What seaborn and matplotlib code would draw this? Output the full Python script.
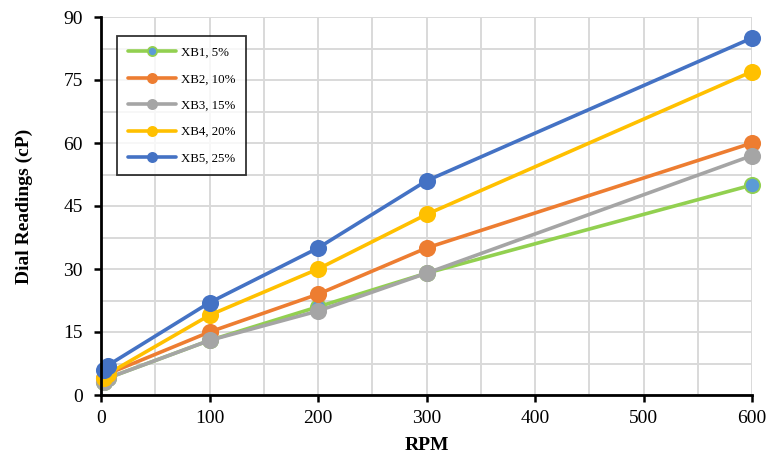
import matplotlib
matplotlib.use("Agg")
import matplotlib.pyplot as plt
from matplotlib.ticker import MultipleLocator
import pandas as pd
import seaborn as sns

# data
rpm = [3, 6, 100, 200, 300, 600]
labels = ["XB1, 5%", "XB2, 10%", "XB3, 15%", "XB4, 20%", "XB5, 25%"]
xb1 = [3, 4, 13, 21, 29, 50]
xb2 = [4, 5, 15, 24, 35, 60]
xb3 = [3, 4, 13, 20, 29, 57]
xb4 = [4, 5, 19, 30, 43, 77]
xb5 = [6, 7, 22, 35, 51, 85]

line_colors = ["#92D050", "#ED7D31", "#A5A5A5", "#FFC000", "#4472C4"]
face_colors = ["#5B9BD5", "#ED7D31", "#A5A5A5", "#FFC000", "#4472C4"]

sns.set_style("white")
plt.rcParams["font.family"] = ["Liberation Serif", "DejaVu Serif"]
plt.rcParams["text.color"] = "black"
plt.rcParams["axes.labelcolor"] = "black"
plt.rcParams["xtick.color"] = "black"
plt.rcParams["ytick.color"] = "black"

fig = plt.figure(figsize=(7.66, 4.63), dpi=100)
ax = fig.add_axes([101 / 766, 68 / 463, 651 / 766, 378 / 463])

for name, vals, lc, fc in zip(labels, [xb1, xb2, xb3, xb4, xb5], line_colors, face_colors):
    df = pd.DataFrame({"RPM": rpm, "val": vals})
    sns.lineplot(data=df, x="RPM", y="val", ax=ax, color=lc, linewidth=2.6,
                 marker="o", markersize=11, markerfacecolor=fc,
                 markeredgecolor=lc, markeredgewidth=1.3, label=name,
                 clip_on=False)

ax.set_xlim(0, 600)
ax.set_ylim(0, 90)
ax.xaxis.set_major_locator(MultipleLocator(100))
ax.xaxis.set_minor_locator(MultipleLocator(50))
ax.yaxis.set_major_locator(MultipleLocator(15))
ax.yaxis.set_minor_locator(MultipleLocator(7.5))
ax.grid(which="both", color="#D9D9D9", linewidth=1.4)
ax.set_axisbelow(True)

for s in ["top", "right"]:
    ax.spines[s].set_visible(False)
for s in ["left", "bottom"]:
    ax.spines[s].set_color("black")
    ax.spines[s].set_linewidth(2)

ax.tick_params(which="major", direction="out", length=5, width=1.8,
               color="black", labelsize=14, bottom=True, left=True)
ax.tick_params(axis="y", which="major", pad=8)
ax.tick_params(axis="x", which="major", pad=5.5)
ax.tick_params(which="minor", length=0)

ax.set_xlabel("RPM", fontsize=14, fontweight="bold")
ax.set_ylabel("Dial Readings (cP)", fontsize=14, fontweight="bold")
ax.xaxis.set_label_coords(0.5, -0.11)
ax.yaxis.set_label_coords(-0.104, 0.5)

leg = ax.legend(loc="upper left", bbox_to_anchor=(0.0246, 0.95), fontsize=9.3,
                frameon=True, fancybox=False, edgecolor="black",
                handlelength=3.7, handletextpad=0.4, labelspacing=1.11,
                borderpad=0.85, borderaxespad=0, markerscale=0.6)
leg.get_frame().set_linewidth(1.3)

fig.savefig("out.png", dpi=100)
